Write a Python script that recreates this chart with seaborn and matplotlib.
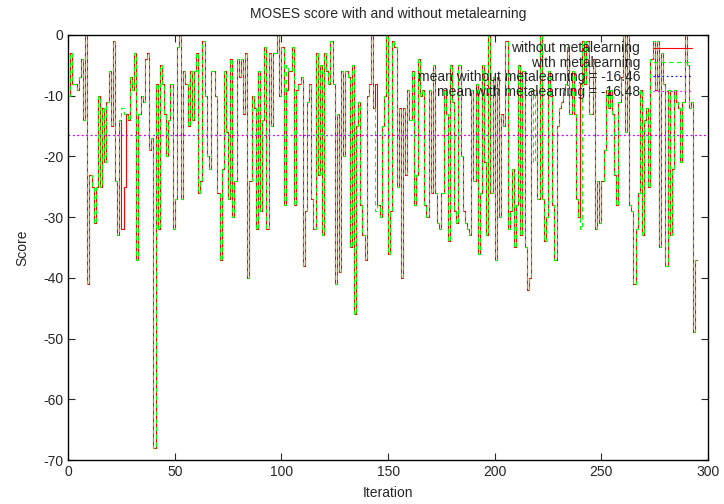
import numpy as np
import pandas as pd
import matplotlib
matplotlib.use("Agg")
import matplotlib.pyplot as plt
import seaborn as sns

# Scores per iteration
without_meta = [
    -10, -3, -8, -8, -9, -7, -4, -14, 0, -41, -23, -25, -31, -25, -10, -25, -12, -21, -11, -6,
    -15, -1, -24, -33, -14, -32, -25, -13, -14, -7, -9, -3, -37, -13, -10, -11, -4, -3, -19, -17,
    -68, -8, -32, -5, -8, -13, -20, -14, -8, -32,
    -27, -2, 0, -27, -6, -8, -15, -6, -14, -6, -3, -26, -24, -1, -10, -20, -22, -6, -6, -10,
    -26, -37, -22, -6, -16, -27, -4, -30, -24, -4, -7, -4, -13, -3, -40, -24, -10, -12, -32, -6,
    -29, -14, -2, -32, -3, -15, -3, -3, 0, -10,
    -2, -28, -9, -6, -6, -2, -28, -9, -8, -7, -38, -29, -11, -8, -27, -32, -3, -23, -5, -33,
    -3, -6, -8, -1, -8, -41, -13, -39, -6, -20, -6, -7, -35, -5, -46, -15, -11, -28, -33, -37,
    -10, -8, 0, -12, -8, -28, -30, -15, -10,
    0, -36, -29, -1, -2, -25, -12, -40, -12, -23, -9, -14, -6, -28, -23, -4, -10, -9, -28, -30,
    -9, -26, -5, -26, -31, -32, -26, -9, -13, -34, -5, -11, -29, -31, -5, -20, -29, -31, -32, -33,
    -9, -24, -8, -36, -26, -5, -21, -33, 0,
    -26, -7, -37, -7, -30, -13, -15, -1, -32, -29, -22, -35, -28, -5, -33, -6, -35, -42, -40, -9,
    -9, -9, -27, 0, -27, -34, -30, -6, -10, -28, -37, -15, -12, -11, -9, -8, -2, -13, -6, -13,
    -27, -30, -8, -1, -8, -1, -13, -13, -4,
    -32, -24, -31, -24, -19, -9, -12, -9, -13, -23, -28, -11, -7, 0, -16, 0, -28, -29, -41, -32,
    -26, -9, -33, -14, -12, -25, -4, -1, -9, -1, -35, -3, -8, -38, -9, -33, -22, -9, -11, -12,
    -21, -11, 0, -5, -12, -11, -49, -37, -37,
]

# the run with metalearning only differs at a few iterations
with_meta_diff = {25: -12, 26: -13, 102: -5, 144: -29, 218: -21, 240: -32}
with_meta = list(without_meta)
for i, v in with_meta_diff.items():
    with_meta[i] = v

mean_without = -16.46
mean_with = -16.48

iterations = np.arange(len(without_meta))
df = pd.DataFrame({"Iteration": iterations, "without": without_meta, "with": with_meta})

sns.set_style("ticks")
plt.rcParams["font.family"] = ["Liberation Sans", "DejaVu Sans"]
plt.rcParams["axes.unicode_minus"] = False

fig = plt.figure(figsize=(7.24, 5.04), dpi=100)
ax = fig.add_axes([0.094, 0.0873, 0.884, 0.8433])

sns.lineplot(data=df, x="Iteration", y="without", ax=ax, color="#ff0000",
             lw=0.8, drawstyle="steps-post", label="without metalearning")
sns.lineplot(data=df, x="Iteration", y="with", ax=ax, color="#00ff00",
             lw=0.8, linestyle=(0, (4, 3)), drawstyle="steps-post", label="with metalearning")
ax.axhline(mean_without, color="#0000ff", lw=0.8, linestyle=(0, (1.5, 2.5)),
           label=f"mean without metalearning = {mean_without:.2f}")
ax.axhline(mean_with, color="#ff00ff", lw=0.8, linestyle=(0, (1.5, 2.5)),
           label=f"mean with metalearning = {mean_with:.2f}")

ax.set_xlim(0, 300)
ax.set_ylim(-70, 0)
ax.set_xticks(range(0, 301, 50))
ax.set_yticks(range(-70, 1, 10))
ax.tick_params(direction="in", top=True, right=True, length=5, labelsize=10, width=0.8)
for s in ax.spines.values():
    s.set_linewidth(1)
    s.set_color("black")

ax.set_title("MOSES score with and without metalearning", fontsize=10, pad=12)
ax.set_xlabel("Iteration", fontsize=10, labelpad=5)
ax.set_ylabel("Score", fontsize=10, labelpad=10)

ax.legend(loc="upper right", bbox_to_anchor=(0.983, 0.998), frameon=False,
          markerfirst=False, fontsize=10, handlelength=2.8, labelspacing=0.03,
          borderaxespad=0, handletextpad=0.9)

plt.savefig("out.png", dpi=100)
